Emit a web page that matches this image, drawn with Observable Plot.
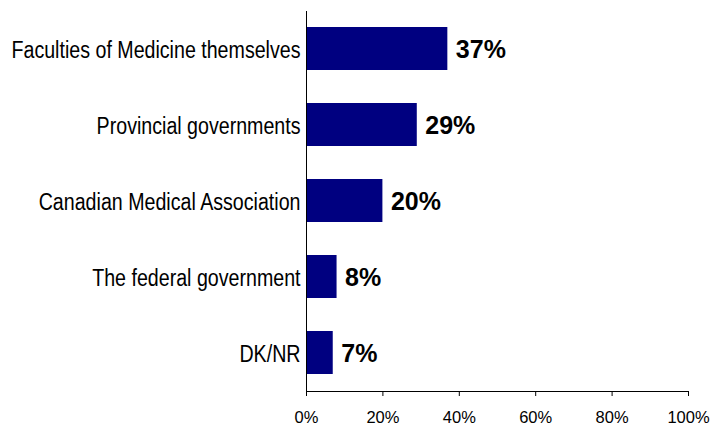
<!DOCTYPE html>
<html>
<head>
<meta charset="utf-8">
<script src="https://cdn.jsdelivr.net/npm/d3@7"></script>
<script src="https://cdn.jsdelivr.net/npm/@observablehq/plot@0.6"></script>
<style>
  html, body { margin: 0; padding: 0; background: #fff; }
  svg { display: block; }
</style>
</head>
<body>
<div id="chart"></div>
<script>
const categories = [
  "Faculties of Medicine themselves",
  "Provincial governments",
  "Canadian Medical Association",
  "The federal government",
  "DK/NR"
];
const values = [37, 29, 20, 8, 7];
const xTicks = [0, 20, 40, 60, 80, 100];

const data = categories.map((c, i) => ({category: c, value: values[i]}));

const chart = Plot.plot({
  width: 712,
  height: 425,
  marginLeft: 306,
  marginRight: 24,
  marginTop: 11,
  marginBottom: 34,
  style: {background: "#fff", color: "#000"},
  x: {domain: [0, 100], ticks: xTicks, tickFormat: d => d + "%"},
  y: {domain: categories, paddingInner: 0.434, paddingOuter: 0.217},
  marks: [
    Plot.barX(data, {x: "value", y: "category", fill: "#000080"}),
    Plot.text(data, {
      x: "value", y: "category", text: d => d.value + "%",
      textAnchor: "start", dx: 8, dy: 1,
      fontSize: 25, fontWeight: "bold", fontFamily: "Liberation Sans, Arial, sans-serif", fill: "#000"
    }),
    Plot.ruleX([0], {stroke: "#000"}),
    Plot.frame({anchor: "bottom", stroke: "#000"}),
    Plot.axisX({
      ticks: xTicks, tickFormat: d => d + "%", tickSize: 5, tickPadding: 15,
      fontSize: 16.5, fontFamily: "Liberation Sans, Arial, sans-serif", stroke: "#000", fill: "#000", label: null
    }),
    Plot.axisY({
      tickSize: 0, tickPadding: 6, label: null, dy: 1,
      fontSize: 23.5, fontFamily: "Liberation Sans, Arial, sans-serif", fill: "#000"
    })
  ]
});
document.getElementById("chart").appendChild(chart);
// Emulate the narrow (Arial Narrow-like) face of the category labels
chart.querySelectorAll('g[aria-label="y-axis tick label"] text').forEach(t => {
  const len = t.getComputedTextLength();
  t.setAttribute("textLength", (len * 0.835).toFixed(1));
  t.setAttribute("lengthAdjust", "spacingAndGlyphs");
});
</script>
</body>
</html>
